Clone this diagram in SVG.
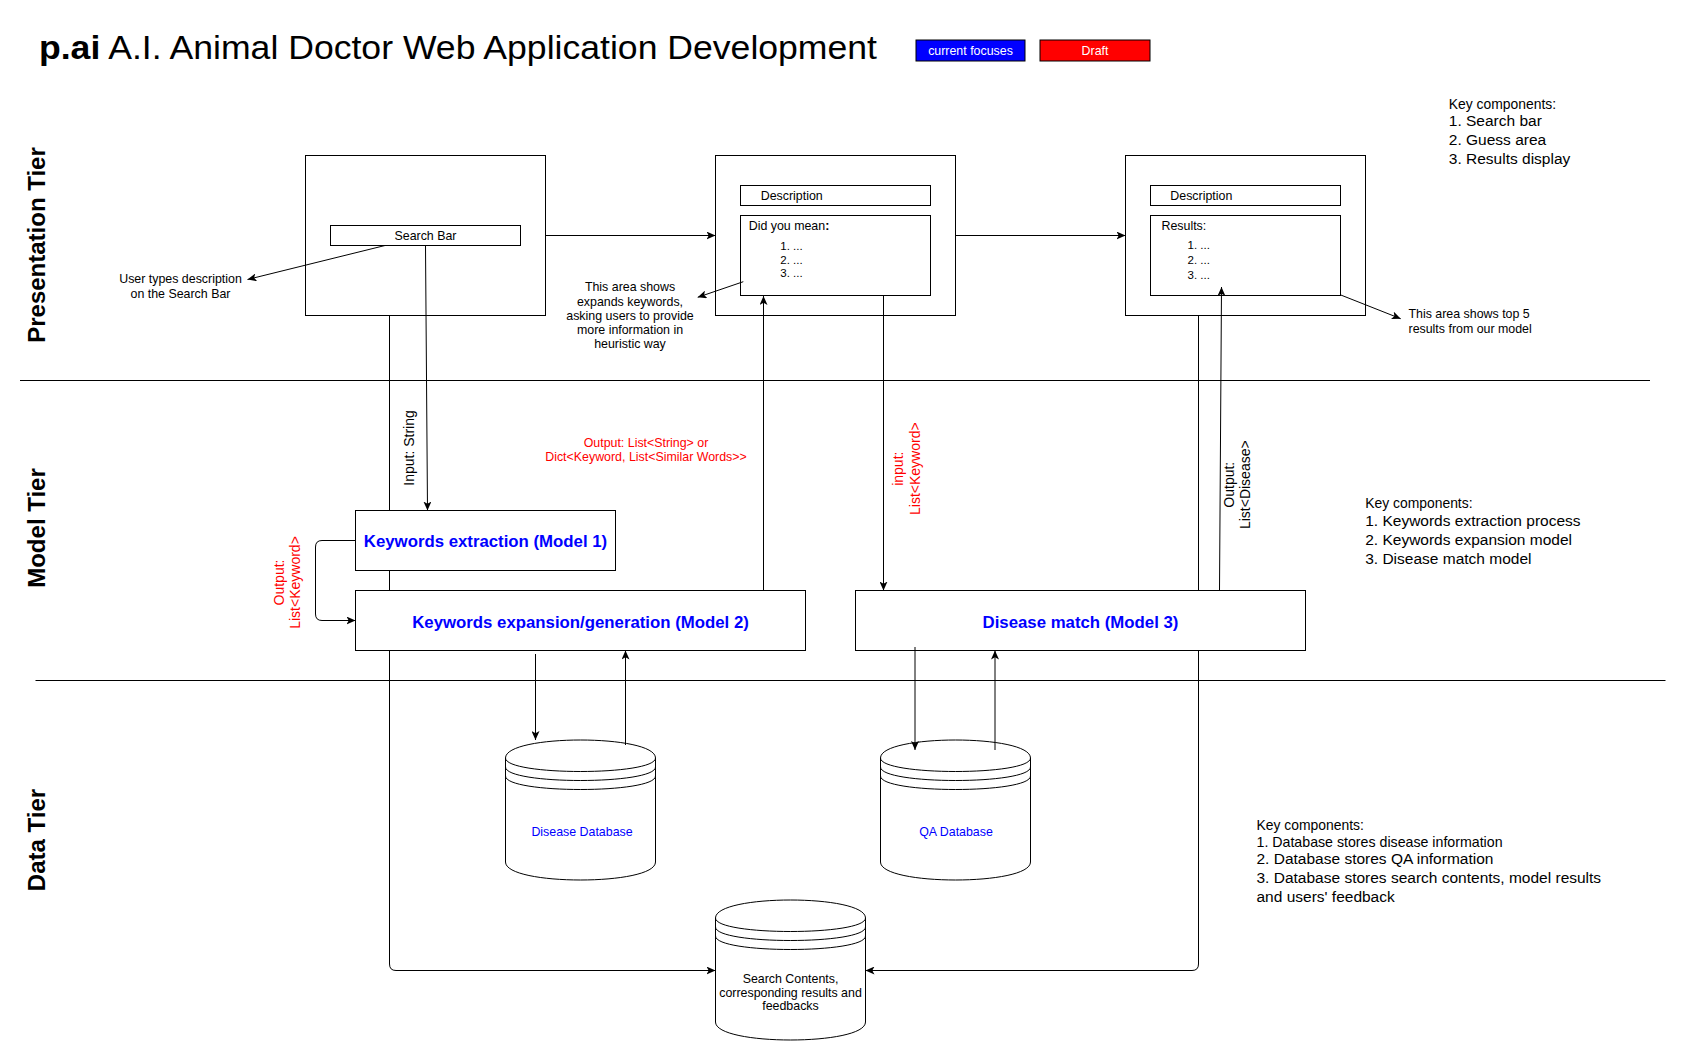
<svg xmlns="http://www.w3.org/2000/svg" xmlns:xlink="http://www.w3.org/1999/xlink" width="1687" height="1061" viewBox="0 0 1687 1061">
<style>
text { font-family: "Liberation Sans", Arial, Helvetica, sans-serif; fill: #000; }
.box { fill: #fff; stroke: #000; stroke-width: 1; }
.ln { fill: none; stroke: #000; stroke-width: 1; }
.arr { fill: none; stroke: #000; stroke-width: 1; marker-end: url(#ah); }
.s12 { font-size: 12.4px; }
.s11 { font-size: 11.5px; }
.s14 { font-size: 14px; }
.hd { font-size: 13.9px; }
.it { font-size: 15.5px; }
.lane { font-size: 24px; font-weight: bold; }
.model { font-size: 16.8px; font-weight: bold; fill: #0000FF; }
.red { fill: #FF0000; }
.blue { fill: #0000FF; }
.mid { text-anchor: middle; }
</style>
<defs>
<marker id="ah" viewBox="0 0 9 8" refX="9" refY="4" markerWidth="9" markerHeight="8" markerUnits="userSpaceOnUse" orient="auto">
<path d="M0,0 L9,4 L0,8 L2.2,4 Z" fill="#000"/>
</marker>
<g id="cyl">
<path class="box" d="M0,18 C0,-6 150,-6 150,18 L150,122 C150,146 0,146 0,122 Z"/>
<path class="ln" d="M0,18 C0,36 150,36 150,18 M0,27 C0,45 150,45 150,27 M0,36 C0,54 150,54 150,36"/>
</g>
</defs>
<rect width="1687" height="1061" fill="#fff"/>

<g id="title">
<text x="39" y="59" font-size="34" textLength="838" lengthAdjust="spacingAndGlyphs"><tspan font-weight="bold">p.ai</tspan> A.I. Animal Doctor Web Application Development</text>
</g>
<g id="legend-current">
<rect x="916" y="40" width="109" height="21" fill="#0000FF" stroke="#000"/>
<text class="s12 mid" x="970.5" y="54.8" style="fill:#fff">current focuses</text>
</g>
<g id="legend-draft">
<rect x="1040" y="40" width="110" height="21" fill="#FF0000" stroke="#000"/>
<text class="s12 mid" x="1095" y="54.8" style="fill:#fff">Draft</text>
</g>

<g id="lanes">
<line class="ln" x1="20" y1="380.5" x2="1650" y2="380.5"/>
<line class="ln" x1="35.5" y1="680.5" x2="1665.5" y2="680.5"/>
<text class="lane mid" transform="translate(45,245) rotate(-90)">Presentation Tier</text>
<text class="lane mid" transform="translate(45,528) rotate(-90)">Model Tier</text>
<text class="lane mid" transform="translate(45,840) rotate(-90)">Data Tier</text>
</g>

<g id="search-page">
<rect class="box" x="305.5" y="155.5" width="240" height="160"/>
<rect class="box" x="330.5" y="225.5" width="190" height="20"/>
<text class="s12 mid" x="425.5" y="240">Search Bar</text>
</g>
<g id="guess-page">
<rect class="box" x="715.5" y="155.5" width="240" height="160"/>
<rect class="box" x="740.5" y="185.5" width="190" height="20"/>
<text class="s12" x="760.7" y="199.6">Description</text>
<rect class="box" x="740.5" y="215.5" width="190" height="80"/>
<text class="s12" x="748.7" y="230.3">Did you mean<tspan font-weight="bold">:</tspan></text>
<text class="s11" x="780.3" y="250.3">1. ...</text>
<text class="s11" x="780.3" y="263.5">2. ...</text>
<text class="s11" x="780.3" y="277">3. ...</text>
</g>
<g id="results-page">
<rect class="box" x="1125.5" y="155.5" width="240" height="160"/>
<rect class="box" x="1150.5" y="185.5" width="190" height="20"/>
<text class="s12" x="1170.3" y="200">Description</text>
<rect class="box" x="1150.5" y="215.5" width="190" height="80"/>
<text class="s12" x="1161.5" y="230">Results:</text>
<text class="s11" x="1187.5" y="249.3">1. ...</text>
<text class="s11" x="1187.5" y="264.3">2. ...</text>
<text class="s11" x="1187.5" y="278.6">3. ...</text>
</g>

<g id="note-search">
<text class="s12 mid" x="180.5" y="282.5">User types description</text>
<text class="s12 mid" x="180.5" y="297.5">on the Search Bar</text>
</g>
<g id="note-guess">
<text class="s12 mid" x="630" y="291.2">This area shows</text>
<text class="s12 mid" x="630" y="305.5">expands keywords,</text>
<text class="s12 mid" x="630" y="319.8">asking users to provide</text>
<text class="s12 mid" x="630" y="334.1">more information in</text>
<text class="s12 mid" x="630" y="348.4">heuristic way</text>
</g>
<g id="note-results">
<text class="s12" x="1408.5" y="318.2">This area shows top 5</text>
<text class="s12" x="1408.5" y="332.5">results from our model</text>
</g>

<g id="key-presentation">
<text class="hd" x="1448.8" y="108.8">Key components:</text>
<text class="it" x="1448.8" y="125.6">1. Search bar</text>
<text class="it" x="1448.8" y="145">2. Guess area</text>
<text class="it" x="1448.8" y="164.3">3. Results display</text>
</g>
<g id="key-model">
<text class="hd" x="1365.2" y="508">Key components:</text>
<text class="it" x="1365.2" y="526">1. Keywords extraction process</text>
<text class="it" x="1365.2" y="545.3">2. Keywords expansion model</text>
<text class="it" x="1365.2" y="564">3. Disease match model</text>
</g>
<g id="key-data">
<text class="hd" x="1256.5" y="829.8">Key components:</text>
<text x="1256.5" y="846.5" font-size="14.2">1. Database stores disease information</text>
<text class="it" x="1256.5" y="864.3">2. Database stores QA information</text>
<text class="it" x="1256.5" y="883">3. Database stores search contents, model results</text>
<text class="it" x="1256.5" y="902">and users' feedback</text>
</g>

<g id="model1">
<rect class="box" x="355.5" y="510.5" width="260" height="60"/>
<text class="model mid" x="485.5" y="547">Keywords extraction (Model 1)</text>
</g>
<g id="model2">
<rect class="box" x="355.5" y="590.5" width="450" height="60"/>
<text class="model mid" x="580.5" y="627.5">Keywords expansion/generation (Model 2)</text>
</g>
<g id="model3">
<rect class="box" x="855.5" y="590.5" width="450" height="60"/>
<text class="model mid" x="1080.5" y="627.5">Disease match (Model 3)</text>
</g>

<g id="disease-db">
<use xlink:href="#cyl" transform="translate(505.5,740)"/>
<text class="s12 mid blue" x="582" y="836">Disease Database</text>
</g>
<g id="qa-db">
<use xlink:href="#cyl" transform="translate(880.5,740)"/>
<text class="s12 mid blue" x="956" y="836">QA Database</text>
</g>
<g id="search-db">
<use xlink:href="#cyl" transform="translate(715.5,900)"/>
<text class="s12 mid" x="790.5" y="982.5">Search Contents,</text>
<text class="s12 mid" x="790.5" y="996.5">corresponding results and</text>
<text class="s12 mid" x="790.5" y="1010.4">feedbacks</text>
</g>

<g id="connectors">
<path class="arr" d="M545.5,235.5 H715.5"/>
<path class="arr" d="M955.5,235.5 H1125.5"/>
<path class="arr" d="M385,245.5 L247.5,279.5"/>
<path class="arr" d="M743.3,281.7 L697.7,297.3"/>
<path class="arr" d="M1340.8,295 L1400.7,318.7"/>
<path class="arr" d="M425.5,245.5 L427.5,510.5"/>
<path class="arr" d="M763.5,590.5 V296"/>
<path class="arr" d="M883.5,295.5 V590.5"/>
<path class="arr" d="M1219.5,590.5 L1221.5,287"/>
<path class="ln" d="M389.5,315.5 V510.5 M389.5,570.5 V590.5"/>
<path class="arr" d="M389.5,650.5 V964 Q389.5,970.5 396,970.5 H715.5"/>
<path class="ln" d="M1198.5,315.5 V590.5"/>
<path class="arr" d="M1198.5,650.5 V964 Q1198.5,970.5 1192,970.5 H865.5"/>
<path class="arr" d="M355.5,540.5 H322 Q315.5,540.5 315.5,547 V614 Q315.5,620.5 322,620.5 H355.5"/>
<path class="arr" d="M535.5,654 V740"/>
<path class="arr" d="M625.5,745 V650.5"/>
<path class="arr" d="M915,647 V750"/>
<path class="arr" d="M995,750 V650.5"/>
<text class="s14 mid" transform="translate(414.3,448) rotate(-90)">Input: String</text>
<text class="s14 mid red" transform="translate(0,582.5) rotate(-90)"><tspan x="0" y="283.5">Output:</tspan><tspan x="0" y="300">List&lt;Keyword&gt;</tspan></text>
<text class="s12 mid red" x="646" y="447">Output: List&lt;String&gt; or</text>
<text class="s12 mid red" x="646" y="461">Dict&lt;Keyword, List&lt;Similar Words&gt;&gt;</text>
<text class="s14 mid red" transform="translate(0,468.7) rotate(-90)"><tspan x="0" y="903.3">input:</tspan><tspan x="0" y="920">List&lt;Keyword&gt;</tspan></text>
<text class="s14 mid" transform="translate(0,484.7) rotate(-90)"><tspan x="0" y="1233.5">Output:</tspan><tspan x="0" y="1250">List&lt;Disease&gt;</tspan></text>
</g>
</svg>
